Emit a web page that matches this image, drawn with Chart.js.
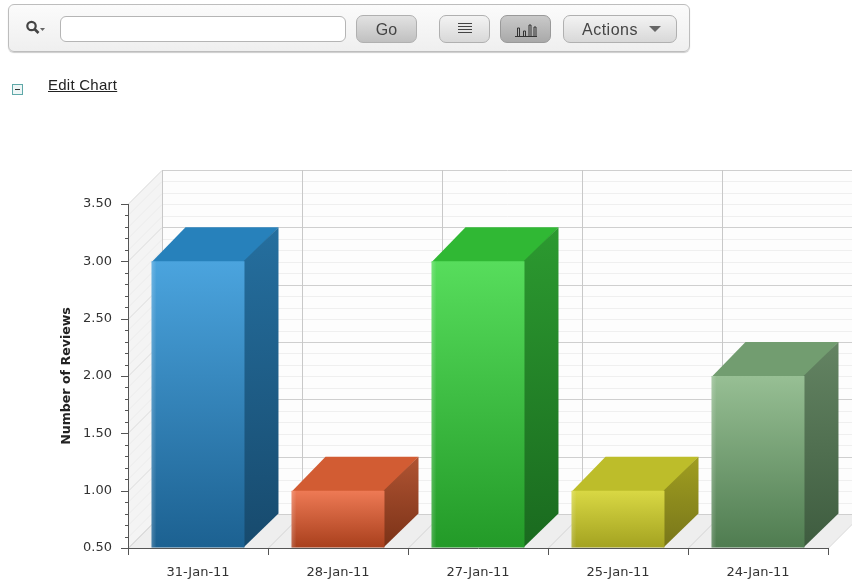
<!DOCTYPE html>
<html>
<head>
<meta charset="utf-8">
<title>Number of Reviews</title>
<script src="https://cdn.jsdelivr.net/npm/chart.js@4"></script>
<style>
  html, body { margin: 0; padding: 0; background: #fff; overflow: hidden; }
  body { width: 852px; height: 582px; position: relative; font-family: "Liberation Sans", Arial, sans-serif; color: #333; }
  #chart { position: absolute; left: 0; top: 0; }
  .toolbar { position: absolute; left: 8px; top: 4px; width: 680px; height: 46px; border: 1px solid #bdbdbd; border-radius: 6px;
    background: linear-gradient(#fbfbfb, #efefef); box-shadow: 0 1px 1px #ccc; }
  .toolbar input { position: absolute; left: 51px; top: 11px; width: 284px; height: 24px; padding: 0; border: 1px solid #b5b5b5; border-radius: 6px; background: #fff; box-sizing: content-box; }
  .btn { position: absolute; top: 10px; height: 26px; border: 1px solid #b0b0b0; border-radius: 7px; background: linear-gradient(#f3f3f3, #d8d8d8);
    font-size: 16px; line-height: 27px; text-align: center; color: #444; box-sizing: content-box; }
  .btn.on { background: linear-gradient(#c9c9c9, #a9a9a9); border-color: #999; }
  .btn.go { background: linear-gradient(#e2e2e2, #c0c0c0); }
  .btn.actions { text-align: left; text-indent: 18px; letter-spacing: 0.5px; }
  .btn svg, .search { position: absolute; }
  .edit { position: absolute; left: 48px; top: 76px; font-size: 15px; letter-spacing: 0.25px; color: #222; text-decoration: underline; }
  .collapse { position: absolute; left: 12px; top: 84px; width: 9px; height: 9px; border: 1px solid #5fa8a8; background: #eef6f6; }
  .collapse i { position: absolute; left: 2px; top: 4px; width: 5px; height: 1px; background: #333; }
</style>
</head>
<body>
<canvas id="chart" width="852" height="582"></canvas>
<div class="toolbar">
  <svg class="search" style="left:16px;top:14px" width="22" height="18" viewBox="0 0 22 18">
    <circle cx="6.5" cy="7" r="4.2" fill="none" stroke="#444" stroke-width="2.2"/>
    <path d="M9.5 10 L13.5 14" stroke="#444" stroke-width="2.6"/>
    <path d="M15 9 L20 9 L17.5 12 Z" fill="#666"/>
  </svg>
  <input type="text">
  <div class="btn go" style="left:347px;width:59px">Go</div>
  <div class="btn" style="left:430px;width:49px">
    <svg style="left:17px;top:6px" width="16" height="14"><path d="M1 1.5H15M1 4.5H15M1 7.5H15M1 10.5H15" stroke="#444" fill="none"/></svg>
  </div>
  <div class="btn on" style="left:491px;width:49px">
    <svg style="left:13px;top:5px" width="24" height="16"><path d="M1 15.5H23M3.5 15V7M5.5 15V7M9.5 15V10M11.5 15V10M15 15V4M17 15V4M20 15V6M22 15V6M3.5 7H5.5M9.5 10H11.5M15 4H17M20 6H22" stroke="#333" fill="none"/></svg>
  </div>
  <div class="btn actions" style="left:554px;width:112px">Actions
    <svg style="left:85px;top:10px" width="12" height="7"><path d="M0 0H12L6 6Z" fill="#666"/></svg>
  </div>
</div>
<div class="collapse"><i></i></div>
<div class="edit">Edit Chart</div>

<script>
const categories = ["31-Jan-11", "28-Jan-11", "27-Jan-11", "25-Jan-11", "24-Jan-11"];
const reviewCounts = [3, 1, 3, 1, 2];
const yMin = 0.5;
const yMax = 3.5;
const yMinorStep = 0.1;
const yTickLabels = ["0.50", "1.00", "1.50", "2.00", "2.50", "3.00", "3.50"];

const faceTop = ["#4ba4de", "#ee7a55", "#57dd5c", "#d9d844", "#97bf94"];
const faceBottom = ["#1c6191", "#a83f1c", "#239a28", "#a3a220", "#4f7c50"];
const topColors = ["#2781bb", "#d25c33", "#30b834", "#bdbd2a", "#729d70"];
const sideTop = ["#256f9f", "#b05433", "#2c9a30", "#a09e20", "#648463"];
const sideBottom = ["#174a6d", "#7b3217", "#1a6a1f", "#78761a", "#3e5c3f"];

const DEPTH = 34;

function isMajor(v) {
  return Math.abs(v * 2 - Math.round(v * 2)) < 1e-6;
}

function poly(ctx, pts, fill) {
  ctx.beginPath();
  pts.forEach((p, i) => (i ? ctx.lineTo(p[0], p[1]) : ctx.moveTo(p[0], p[1])));
  ctx.closePath();
  ctx.fillStyle = fill;
  ctx.fill();
}

function line(ctx, x1, y1, x2, y2, color) {
  ctx.beginPath();
  ctx.moveTo(x1, y1);
  ctx.lineTo(x2, y2);
  ctx.strokeStyle = color;
  ctx.lineWidth = 1;
  ctx.stroke();
}

function categoryEdge(xScale, i) {
  return Math.round(xScale.left + (xScale.width / categories.length) * i) + 0.5;
}

// walls, floor and the box sides are not something chart.js has, so draw them from its scales
const box3d = {
  id: "box3d",
  beforeDatasetsDraw(chart) {
    const ctx = chart.ctx;
    const { left, right, top, bottom } = chart.chartArea;
    const d = DEPTH;
    const yScale = chart.scales.y;
    const xScale = chart.scales.x;
    const farRight = right + d;

    ctx.save();
    poly(ctx, [[left + d, top - d], [farRight, top - d], [farRight, bottom - d], [left + d, bottom - d]], "#fdfdfd");
    poly(ctx, [[left, top], [left + d, top - d], [left + d, bottom - d], [left, bottom]], "#f4f4f4");
    poly(ctx, [[left, bottom], [left + d, bottom - d], [farRight, bottom - d], [right, bottom]], "#eeeeee");

    yScale.ticks.forEach((t) => {
      if (isMajor(t.value)) return;
      const y = Math.round(yScale.getPixelForValue(t.value)) + 0.5;
      line(ctx, left + d, y - d, farRight, y - d, "#efefef");
      line(ctx, left, y, left + d, y - d, "#ececec");
    });
    yScale.ticks.forEach((t) => {
      if (!isMajor(t.value)) return;
      const y = Math.round(yScale.getPixelForValue(t.value)) + 0.5;
      line(ctx, left + d, y - d, farRight, y - d, "#cfcfcf");
      line(ctx, left, y, left + d, y - d, "#dcdcdc");
    });
    categories.forEach((c, i) => {
      const x = categoryEdge(xScale, i);
      line(ctx, x + d, top - d, x + d, bottom - d, "#c8c8c8");
      line(ctx, x, bottom, x + d, bottom - d, "#d4d4d4");
    });
    line(ctx, right + 0.5, bottom, farRight + 0.5, bottom - d, "#d4d4d4");

    // box sides and lids, pulled 1px under the face so no seam shows
    chart.getDatasetMeta(0).data.forEach((bar, i) => {
      const { x, y, base, width } = bar.getProps(["x", "y", "base", "width"], true);
      const l = x - width / 2;
      const r = x + width / 2;
      poly(ctx, [[l, y + 1], [l + d, y - d], [r + d, y - d], [r, y + 1]], topColors[i]);
      const g = ctx.createLinearGradient(0, y - d, 0, base);
      g.addColorStop(0, sideTop[i]);
      g.addColorStop(1, sideBottom[i]);
      poly(ctx, [[r - 1, y], [r + d, y - d], [r + d, base - d], [r - 1, base]], g);
    });
    ctx.restore();
  },
  afterDatasetsDraw(chart) {
    const ctx = chart.ctx;
    chart.getDatasetMeta(0).data.forEach((bar) => {
      const { x, y, base, width } = bar.getProps(["x", "y", "base", "width"], true);
      const g = ctx.createLinearGradient(x - width / 2, 0, x - width / 2 + 5, 0);
      g.addColorStop(0, "rgba(255,255,255,0.2)");
      g.addColorStop(1, "rgba(255,255,255,0)");
      ctx.fillStyle = g;
      ctx.fillRect(x - width / 2, y, 5, base - y);
    });
  },
  afterDraw(chart) {
    const ctx = chart.ctx;
    const yScale = chart.scales.y;
    const xScale = chart.scales.x;
    const { left, right, top, bottom } = chart.chartArea;
    ctx.save();
    yScale.ticks.forEach((t) => {
      const y = Math.round(yScale.getPixelForValue(t.value)) + 0.5;
      line(ctx, left - (isMajor(t.value) ? 7 : 3), y, left, y, "#555");
    });
    line(ctx, left + 0.5, top, left + 0.5, bottom + 1, "#555");
    line(ctx, left, bottom + 0.5, right + 1, bottom + 0.5, "#555");
    for (let i = 0; i <= categories.length; i++) {
      const x = categoryEdge(xScale, i);
      line(ctx, x, bottom, x, bottom + 7, "#555");
    }
    ctx.restore();
  },
};

new Chart(document.getElementById("chart"), {
  type: "bar",
  data: {
    labels: categories,
    datasets: [
      {
        label: "Number of Reviews",
        data: reviewCounts,
        base: yMin,
        barPercentage: 0.664,
        categoryPercentage: 1,
        backgroundColor(c) {
          const area = c.chart.chartArea;
          if (!area) return faceTop[c.dataIndex];
          const yScale = c.chart.scales.y;
          const g = c.chart.ctx.createLinearGradient(0, yScale.getPixelForValue(reviewCounts[c.dataIndex]), 0, area.bottom);
          g.addColorStop(0, faceTop[c.dataIndex]);
          g.addColorStop(1, faceBottom[c.dataIndex]);
          return g;
        },
      },
    ],
  },
  options: {
    responsive: false,
    animation: false,
    layout: { padding: { left: 59, top: 204, right: 24, bottom: 0 } },
    plugins: { legend: { display: false }, tooltip: { enabled: false } },
    scales: {
      x: {
        grid: { drawOnChartArea: false, drawTicks: false },
        border: { display: false },
        afterFit(s) { s.height = 34; },
        ticks: { color: "#333", padding: 17, font: { family: "DejaVu Sans", size: 13 }, maxRotation: 0 },
      },
      y: {
        min: yMin,
        max: yMax,
        afterFit(s) { s.width = 69; },
        grid: { drawOnChartArea: false, drawTicks: false },
        border: { display: false },
        title: { display: true, text: "Number of Reviews", color: "#222", font: { family: "DejaVu Sans", size: 12.6, weight: "bold" }, padding: 0 },
        ticks: {
          stepSize: yMinorStep,
          autoSkip: false,
          padding: 16,
          color: "#333",
          font: { family: "DejaVu Sans", size: 13 },
          callback(v) {
            return isMajor(v) ? yTickLabels[Math.round((v - yMin) * 2)] : "";
          },
        },
      },
    },
  },
  plugins: [box3d],
});
</script>
</body>
</html>
